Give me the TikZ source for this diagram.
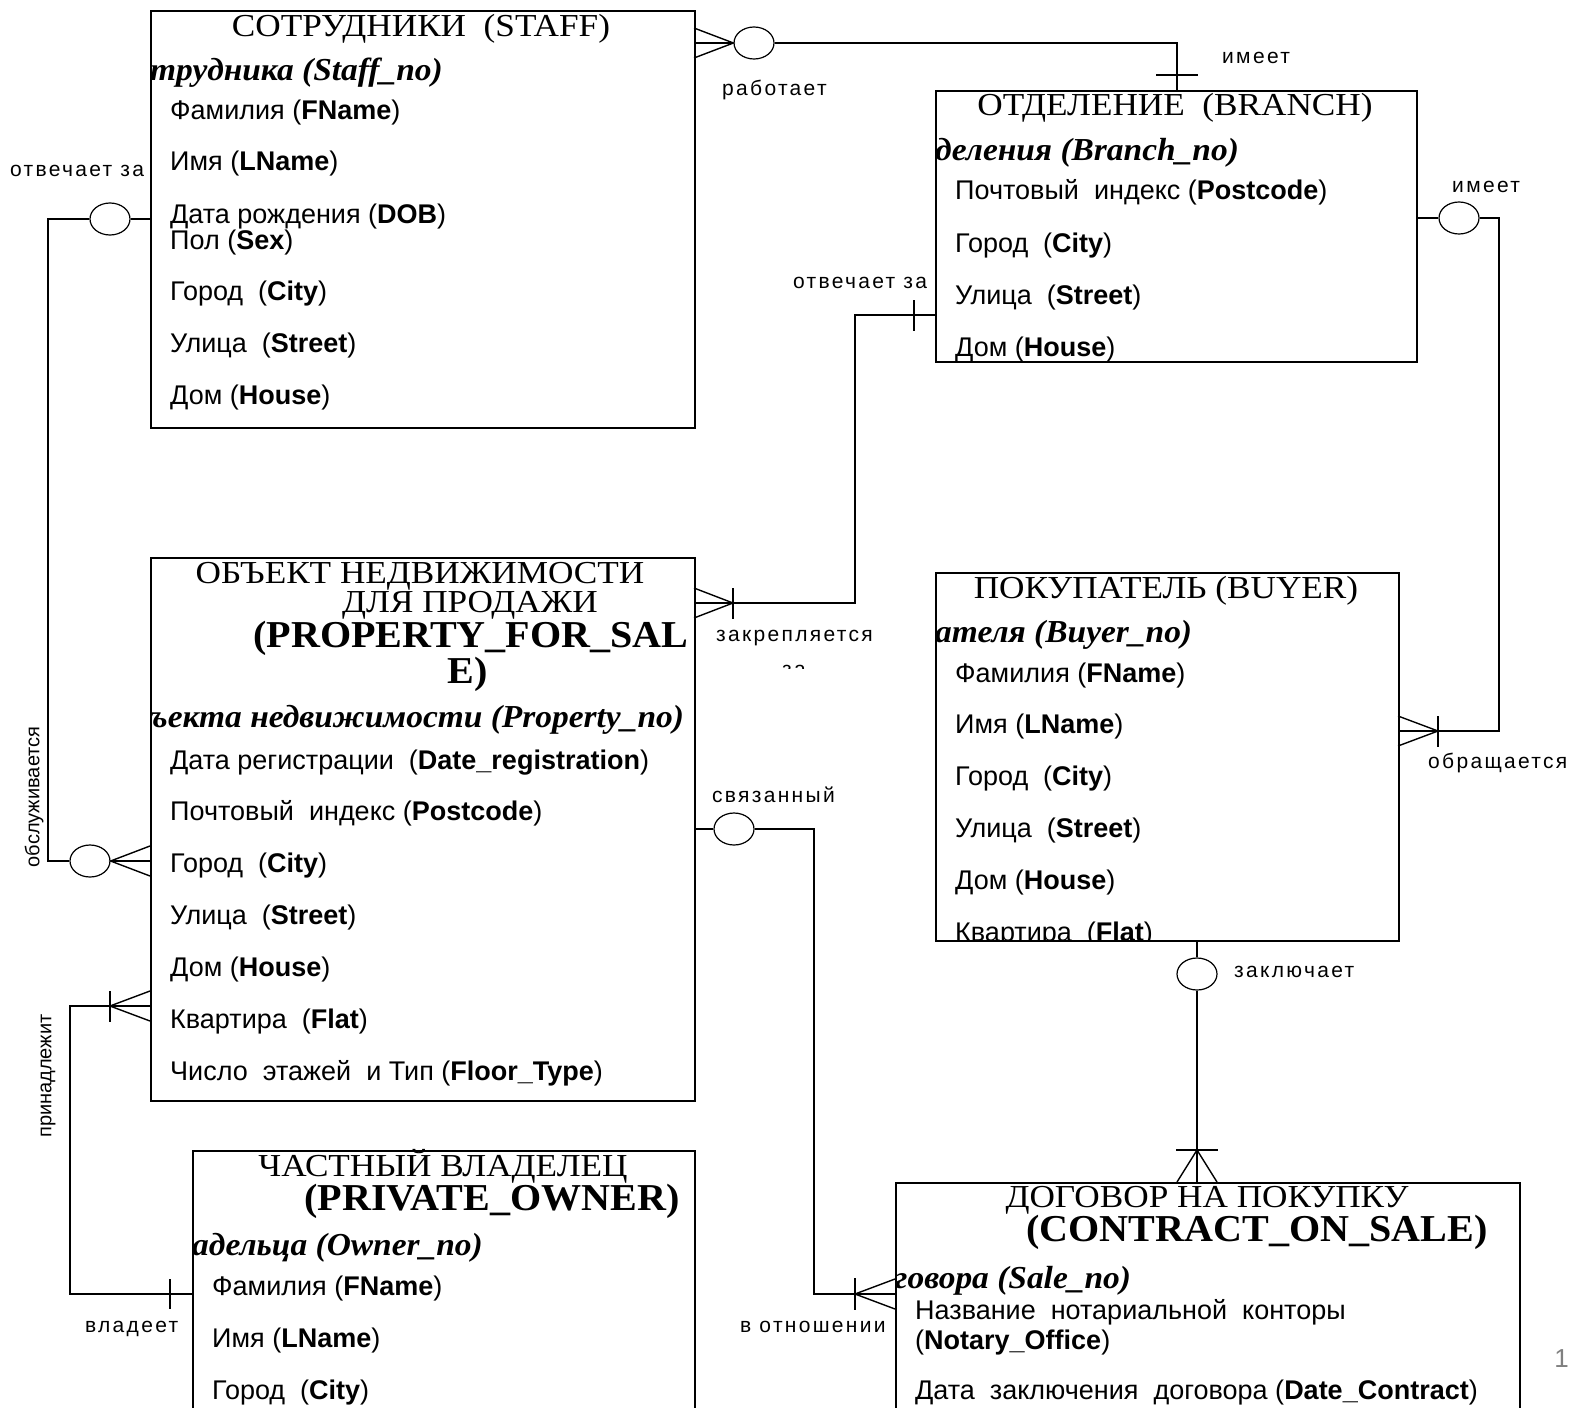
\documentclass[tikz,border=0pt]{standalone}
\usepackage{fontspec}
\setmainfont{Liberation Serif}
\newfontfamily\ttlf[FakeStretch=1.1]{Liberation Serif}
\newfontfamily\ttlbf[FakeStretch=1.055]{Liberation Serif}
\newfontfamily\keyf[FakeStretch=1.045]{Liberation Serif}
\newfontfamily\arialf{Liberation Sans}
\newfontfamily\lblf[LetterSpace=11]{Liberation Sans}
\usetikzlibrary{shapes.geometric}
\tikzset{
 ent/.style={draw, line width=1.6pt, inner sep=0, anchor=north west},
 conn/.style={line width=1.4pt},
 ring/.style={draw, ellipse, line width=1.2pt, minimum width=40pt, minimum height=32pt, inner sep=0},
 ttl/.style={font=\ttlf\fontsize{32}{36}\selectfont, inner sep=0, anchor=base},
 ttlb/.style={font=\ttlbf\bfseries\fontsize{38}{42}\selectfont, inner sep=0, anchor=base},
 keyat/.style={font=\keyf\bfseries\itshape\fontsize{32}{36}\selectfont, inner sep=0, anchor=base west},
 attr/.style={font=\arialf\fontsize{27}{30}\selectfont, inner sep=0, anchor=base west},
 lbl/.style={font=\lblf\fontsize{21}{24}\selectfont, inner sep=0, anchor=base west},
 vlbl/.style={font=\arialf\fontsize{20}{24}\selectfont, inner sep=0, rotate=90, anchor=center},
}
\begin{document}
\begin{tikzpicture}[x=1pt,y=-1pt]
\useasboundingbox (0,0) rectangle (1570,1407);
\fill[white] (0,0) rectangle (1570,1407);

% entity boxes
\node[ent, minimum width=544pt, minimum height=417pt] (staff) at (150,10) {};
\node[ent, minimum width=481pt, minimum height=271pt] (branch) at (935,90) {};
\node[ent, minimum width=544pt, minimum height=543pt] (prop) at (150,557) {};
\node[ent, minimum width=463pt, minimum height=368pt] (buyer) at (935,572) {};
\node[ent, minimum width=502pt, minimum height=280pt] (owner) at (192,1150) {};
\node[ent, minimum width=624pt, minimum height=250pt] (contract) at (895,1182) {};

% STAFF
\node[ttl] (st0) at (421,37) {СОТРУДНИКИ\ \ (STAFF)};
\node[keyat] (st1) at (150,81) {трудника (Staff\_no)};
\node[attr] (st2) at (170,120) {Фамилия (\textbf{FName})};
\node[attr] (st3) at (170,171) {Имя (\textbf{LName})};
\node[attr] (st4) at (170,223) {Дата рождения (\textbf{DOB})};
\node[attr] (st5) at (170,249) {Пол (\textbf{Sex})};
\node[attr] (st6) at (170,300) {Город\ \ (\textbf{City})};
\node[attr] (st7) at (170,352) {Улица\ \ (\textbf{Street})};
\node[attr] (st8) at (170,404) {Дом (\textbf{House})};

% BRANCH
\node[ttl] (br0) at (1175,116) {ОТДЕЛЕНИЕ\ \ (BRANCH)};
\node[keyat] (br1) at (935,161) {деления (Branch\_no)};
\node[attr] (br2) at (955,200) {Почтовый\ \ индекс (\textbf{Postcode})};
\node[attr] (br3) at (955,252) {Город\ \ (\textbf{City})};
\node[attr] (br4) at (955,304) {Улица\ \ (\textbf{Street})};
\node[attr] (br5) at (955,356) {Дом (\textbf{House})};

% PROPERTY
\node[ttl] (pr0) at (420,583) {ОБЪЕКТ НЕДВИЖИМОСТИ};
\node[ttl] (pr1) at (470,612) {ДЛЯ ПРОДАЖИ};
\node[ttlb] (pr2) at (471,647) {(PROPERTY\_FOR\_SAL};
\node[ttlb] (pr3) at (468,683) {E)};
\node[keyat] (pr4) at (150,727) {ъекта недвижимости (Property\_no)};
\node[attr] (pr5) at (170,769) {Дата регистрации\ \ (\textbf{Date\_registration})};
\node[attr] (pr6) at (170,820) {Почтовый\ \ индекс (\textbf{Postcode})};
\node[attr] (pr7) at (170,872) {Город\ \ (\textbf{City})};
\node[attr] (pr8) at (170,924) {Улица\ \ (\textbf{Street})};
\node[attr] (pr9) at (170,976) {Дом (\textbf{House})};
\node[attr] (pr10) at (170,1028) {Квартира\ \ (\textbf{Flat})};
\node[attr] (pr11) at (170,1080) {Число\ \ этажей\ \ и Тип (\textbf{Floor\_Type})};

% BUYER
\node[ttl] (bu0) at (1166,598) {ПОКУПАТЕЛЬ (BUYER)};
\node[keyat] (bu1) at (935,642) {ателя (Buyer\_no)};
\node[attr] (bu2) at (955,682) {Фамилия (\textbf{FName})};
\node[attr] (bu3) at (955,733) {Имя (\textbf{LName})};
\node[attr] (bu4) at (955,785) {Город\ \ (\textbf{City})};
\node[attr] (bu5) at (955,837) {Улица\ \ (\textbf{Street})};
\node[attr] (bu6) at (955,889) {Дом (\textbf{House})};
\begin{scope}
\clip (935,900) rectangle (1398,940);
\node[attr] (bu7) at (955,941) {Квартира\ \ (\textbf{Flat})};
\end{scope}

% PRIVATE OWNER
\node[ttl] (ow0) at (443,1176) {ЧАСТНЫЙ ВЛАДЕЛЕЦ};
\node[ttlb] (ow1) at (492,1210) {(PRIVATE\_OWNER)};
\node[keyat] (ow2) at (192,1255) {адельца (Owner\_no)};
\node[attr] (ow3) at (212,1295) {Фамилия (\textbf{FName})};
\node[attr] (ow4) at (212,1347) {Имя (\textbf{LName})};
\node[attr] (ow5) at (212,1399) {Город\ \ (\textbf{City})};

% CONTRACT
\node[ttl] (co0) at (1207,1207) {ДОГОВОР НА ПОКУПКУ};
\node[ttlb] (co1) at (1257,1241) {(CONTRACT\_ON\_SALE)};
\node[keyat] (co2) at (895,1288) {говора (Sale\_no)};
\node[attr] (co3) at (915,1319) {Название\ \ нотариальной\ \ конторы};
\node[attr] (co4) at (915,1349) {(\textbf{Notary\_Office})};
\node[attr] (co5) at (915,1399) {Дата\ \ заключения\ \ договора (\textbf{Date\_Contract})};
\node[font=\arialf\fontsize{26}{30}\selectfont, text=gray, anchor=base east, inner sep=0] (pg) at (1569,1367) {1};

% rings
\node[ring] (c1) at (754,43) {};
\node[ring] (c2) at (1459,218) {};
\node[ring] (c3) at (1197,974) {};
\node[ring] (c4) at (734,829) {};
\node[ring] (c5) at (110,219) {};
\node[ring] (c6) at (90,861) {};

% 1: staff - branch (работает / имеет)
\draw[conn] (staff.east |- c1) -- (c1.west);
\draw[conn] (694,28) -- (c1.west) -- (694,58);
\draw[conn] (c1.east) -| (branch.north -| 1177,0);
\draw[conn] (1156,75) -- (1198,75);

% 2: branch - property (отвечает за / закрепляется за)
\draw[conn] (branch.west |- 0,315) -| (855,603) -- (prop.east |- 0,603);
\draw[conn] (914,300) -- (914,331);
\draw[conn] (694,588) -- (733,603) -- (694,618);
\draw[conn] (733,588) -- (733,619);

% 3: branch - buyer (имеет / обращается)
\draw[conn] (branch.east |- c2) -- (c2.west);
\draw[conn] (c2.east) -| (1499,731) -- (buyer.east |- 0,731);
\draw[conn] (1398,716) -- (1438,731) -- (1398,746);
\draw[conn] (1438,716) -- (1438,747);

% 4: buyer - contract (заключает)
\draw[conn] (buyer.south -| c3) -- (c3.north);
\draw[conn] (c3.south) -- (contract.north -| c3);
\draw[conn] (1177,1182) -- (1197,1150) -- (1217,1182);
\draw[conn] (1176,1150) -- (1218,1150);

% 5: property - contract (связанный / в отношении)
\draw[conn] (prop.east |- c4) -- (c4.west);
\draw[conn] (c4.east) -| (814,1294) -- (contract.west |- 0,1294);
\draw[conn] (895,1279) -- (855,1294) -- (895,1309);
\draw[conn] (855,1278) -- (855,1310);

% 6: staff - property (отвечает за / обслуживается)
\draw[conn] (staff.west |- c5) -- (c5.east);
\draw[conn] (c5.west) -| (48,861) -- (c6.west);
\draw[conn] (150,846) -- (c6.east) -- (150,876);
\draw[conn] (prop.west |- c6) -- (c6.east);

% 7: property - owner (принадлежит / владеет)
\draw[conn] (prop.west |- 0,1006) -- (70,1006) |- (owner.west |- 0,1294);
\draw[conn] (150,991) -- (110,1006) -- (150,1021);
\draw[conn] (110,991) -- (110,1022);
\draw[conn] (170,1279) -- (170,1309);

% relationship labels
\node[lbl] (l1) at (722,96) {работает};
\node[lbl] (l2) at (1222,64) {имеет};
\node[lbl] (l3) at (1452,193) {имеет};
\node[lbl] (l4) at (10,177) {отвечает за};
\node[lbl] (l5) at (793,288) {отвечает за};
\node[lbl] (l6) at (716,641) {закрепляется};
\begin{scope}
\clip (770,660) rectangle (820,668);
\node[lbl] (l7) at (782,676) {за};
\end{scope}
\node[lbl] (l8) at (712,802) {связанный};
\node[lbl] (l9) at (1428,768) {обращается};
\node[lbl] (l10) at (1234,977) {заключает};
\node[lbl] (l11) at (740,1332) {в отношении};
\node[lbl] (l12) at (85,1332) {владеет};
\node[vlbl] (l13) at (34,797) {обслуживается};
\node[vlbl] (l14) at (48,1076) {принадлежит};
\end{tikzpicture}
\end{document}
